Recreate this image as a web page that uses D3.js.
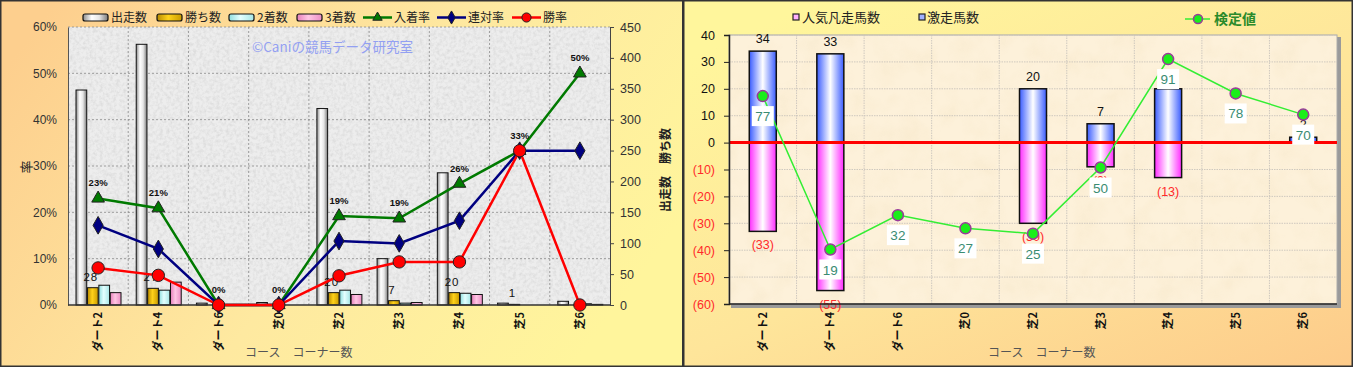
<!DOCTYPE html>
<html>
<head>
<meta charset="utf-8">
<script src="https://cdn.jsdelivr.net/npm/d3@7"></script>
<style>
  body { margin: 0; background: #fff; }
  svg { display: block; font-family: "Liberation Sans", Arial, "Noto Sans CJK JP", sans-serif; }
  .jp { font-family: "Noto Sans CJK JP", sans-serif; }
</style>
</head>
<body>
<div class="charts"></div>
<script>
// ---- data ----
var courses = ["ダート2", "ダート4", "ダート6", "芝0", "芝2", "芝3", "芝4", "芝5", "芝6"];

// left chart: counts
var runners = [348, 422, 3, 4, 318, 75, 214, 3, 6];
var wins    = [28, 27, 0, 0, 20, 7, 20, 1, 0];
var seconds = [32, 24, 0, 0, 24, 3, 19, 0, 2];
var thirds  = [20, 37, 0, 0, 17, 4, 17, 0, 1];
// left chart: rates (%)
var placeRate    = [23.0, 20.9, 0, 0, 19.2, 18.7, 26.2, 33.3, 50.0];
var quinellaRate = [17.2, 12.1, 0, 0, 13.8, 13.3, 18.2, 33.3, 33.3];
var winRate      = [8.0, 6.4, 0, 0, 6.3, 9.3, 9.3, 33.3, 0];

var pctTicks   = [0, 10, 20, 30, 40, 50, 60];
var countTicks = [0, 50, 100, 150, 200, 250, 300, 350, 400, 450];

// right chart
var hits     = [34, 33, 0, 0, 20, 7, 20, 0, 2];        // 激走馬数
var flops    = [-33, -55, 0, 0, -30, -9, -13, 0, 0];   // 人気凡走馬数
var testVals = [77, 19, 32, 27, 25, 50, 91, 78, 70];   // 検定値
var diffTicks = [-60, -50, -40, -30, -20, -10, 0, 10, 20, 30, 40];

var width = 1353, height = 367;

var svg = d3.select(".charts")
    .append("svg")
    .attr("width", width)
    .attr("height", height);

var defs = svg.append("defs");

function hGrad(id, stops) {
  var g = defs.append("linearGradient")
      .attr("id", id)
      .attr("x1", "0%").attr("y1", "0%")
      .attr("x2", "100%").attr("y2", "0%");
  stops.forEach(function(s) {
    g.append("stop").attr("offset", s[0]).attr("stop-color", s[1]);
  });
}

function grad(id, x1, y1, x2, y2, stops) {
  var g = defs.append("linearGradient")
      .attr("id", id)
      .attr("x1", x1).attr("y1", y1)
      .attr("x2", x2).attr("y2", y2);
  stops.forEach(function(s) {
    g.append("stop").attr("offset", s[0]).attr("stop-color", s[1]);
  });
}

grad("bgLeft", "0%", "20%", "100%", "60%", [["0%", "#fdcf8e"], ["55%", "#fee9a0"], ["100%", "#fff59c"]]);
grad("bgRight", "20%", "0%", "100%", "100%", [["0%", "#fff69c"], ["50%", "#fee59a"], ["100%", "#fdcb8a"]]);

hGrad("gRun",   [["0%", "#8c8c8c"], ["35%", "#ffffff"], ["65%", "#e6e6e6"], ["100%", "#7a7a7a"]]);
hGrad("gWin",   [["0%", "#b88a00"], ["45%", "#ffd21a"], ["100%", "#c99a00"]]);
hGrad("gSec",   [["0%", "#8fdede"], ["45%", "#e4ffff"], ["100%", "#a6e6e6"]]);
hGrad("gThird", [["0%", "#e67fba"], ["45%", "#ffc6e4"], ["100%", "#eb8ec4"]]);
hGrad("gHit",   [["0%", "#3a5cff"], ["50%", "#ffffff"], ["100%", "#3a5cff"]]);
hGrad("gFlop",  [["0%", "#ff2cff"], ["50%", "#ffffff"], ["100%", "#ff2cff"]]);

// textures
var granite = defs.append("filter").attr("id", "granite")
    .attr("x", 0).attr("y", 0).attr("width", 1).attr("height", 1);
granite.append("feTurbulence")
    .attr("type", "fractalNoise").attr("baseFrequency", 0.3)
    .attr("numOctaves", 3).attr("seed", 4);
granite.append("feColorMatrix").attr("type", "matrix")
    .attr("values", "0 0 0 0 0.5  0 0 0 0 0.5  0 0 0 0 0.5  1.3 0 0 0 -0.5");

var parch = defs.append("filter").attr("id", "parch")
    .attr("x", 0).attr("y", 0).attr("width", 1).attr("height", 1);
parch.append("feTurbulence")
    .attr("type", "fractalNoise").attr("baseFrequency", 0.04)
    .attr("numOctaves", 3).attr("seed", 9);
parch.append("feColorMatrix").attr("type", "matrix")
    .attr("values", "0 0 0 0 0.88  0 0 0 0 0.74  0 0 0 0 0.5  1.1 0 0 0 -0.45");

// ================= LEFT CHART =================
svg.append("rect")
    .attr("x", 0.75).attr("y", 0.75)
    .attr("width", 682).attr("height", 365.5)
    .style("fill", "url(#bgLeft)")
    .style("stroke", "#333")
    .style("stroke-width", 1.5);

var L = {left: 68, right: 610, top: 27, bottom: 305};

var x = d3.scaleBand().domain(courses).range([L.left, L.right]);
var yPct = d3.scaleLinear().domain([0, 60]).range([L.bottom, L.top]);
var yCnt = d3.scaleLinear().domain([0, 450]).range([L.bottom, L.top]);

var left = svg.append("g").attr("class", "left");

left.append("rect")
    .attr("x", L.left).attr("y", L.top)
    .attr("width", L.right - L.left).attr("height", L.bottom - L.top)
    .style("fill", "#ededed");
left.append("rect")
    .attr("x", L.left).attr("y", L.top)
    .attr("width", L.right - L.left).attr("height", L.bottom - L.top)
    .style("filter", "url(#granite)")
    .style("opacity", 0.55);

// grid
left.append("g").selectAll("line")
    .data(pctTicks.slice(1))
  .enter().append("line")
    .attr("x1", L.left).attr("x2", L.right)
    .attr("y1", function(d) { return yPct(d); })
    .attr("y2", function(d) { return yPct(d); })
    .style("stroke", "#8a8a8a").style("stroke-dasharray", "2,2").style("stroke-width", 0.8);

left.append("g").selectAll("line")
    .data(courses.slice(1))
  .enter().append("line")
    .attr("x1", function(d) { return x(d); })
    .attr("x2", function(d) { return x(d); })
    .attr("y1", L.top).attr("y2", L.bottom)
    .style("stroke", "#8a8a8a").style("stroke-dasharray", "2,2").style("stroke-width", 0.8);

// watermark
left.append("text")
    .attr("class", "jp")
    .attr("x", 252).attr("y", 52)
    .style("font-size", "13.5px")
    .style("fill", "#93a0f2")
    .text("©Caniの競馬データ研究室");

// bars
var barSeries = [
  {name: "出走数", values: runners, fill: "url(#gRun)"},
  {name: "勝ち数", values: wins, fill: "url(#gWin)"},
  {name: "2着数", values: seconds, fill: "url(#gSec)"},
  {name: "3着数", values: thirds, fill: "url(#gThird)"}
];

var xInner = d3.scaleBand()
    .domain(barSeries.map(function(s) { return s.name; }))
    .range([8, 53])
    .paddingInner(0.06);

barSeries.forEach(function(s) {
  left.append("g").selectAll("rect")
      .data(courses.filter(function(c, i) { return s.values[i] > 0; }))
    .enter().append("rect")
      .attr("x", function(c) { return x(c) + xInner(s.name); })
      .attr("width", xInner.bandwidth())
      .attr("y", function(c) { return yCnt(s.values[courses.indexOf(c)]); })
      .attr("height", function(c) { return L.bottom - yCnt(s.values[courses.indexOf(c)]); })
      .style("fill", s.fill)
      .style("stroke", "#111")
      .style("stroke-width", 1);
});

// win count labels
left.append("g").selectAll("text")
    .data(courses.filter(function(c, i) { return wins[i] > 0; }))
  .enter().append("text")
    .attr("x", function(c) { return x(c) + xInner("勝ち数") + xInner.bandwidth() / 2 - 2; })
    .attr("y", function(c) { return yCnt(wins[courses.indexOf(c)]) - 7; })
    .attr("text-anchor", "middle")
    .style("font-size", "11.5px")
    .style("letter-spacing", "1px")
    .style("fill", "#111")
    .text(function(c) { return wins[courses.indexOf(c)]; });

// axes
left.append("g")
    .attr("transform", "translate(" + L.left + ",0)")
    .call(d3.axisLeft(yPct).tickValues(pctTicks).tickSize(0).tickPadding(11)
      .tickFormat(function(d) { return d + "%"; }))
    .call(function(g) {
      g.select(".domain").style("stroke", "#555");
      g.selectAll("text").style("font-size", "12px").style("fill", "#333");
    });

left.append("g")
    .attr("transform", "translate(" + L.right + ",0)")
    .call(d3.axisRight(yCnt).tickValues(countTicks).tickSize(4).tickPadding(6))
    .call(function(g) {
      g.select(".domain").style("stroke", "#444");
      g.selectAll("line").style("stroke", "#444");
      g.selectAll("text").style("font-size", "12.5px").style("fill", "#333");
    });

left.append("line")
    .attr("x1", L.left).attr("x2", L.right)
    .attr("y1", L.bottom).attr("y2", L.bottom)
    .style("stroke", "#333").style("stroke-width", 1.5);

left.append("g").selectAll("text")
    .data(courses)
  .enter().append("text")
    .attr("class", "jp")
    .attr("transform", function(c) {
      return "translate(" + (x(c) + x.bandwidth() / 2 + 4) + "," + (L.bottom + 7) + ") rotate(-90)";
    })
    .attr("text-anchor", "end")
    .style("font-size", "11px")
    .style("font-weight", "bold")
    .style("fill", "#111")
    .text(function(c) { return c; });

left.append("text")
    .attr("class", "jp")
    .attr("x", 245).attr("y", 357)
    .style("font-size", "12px")
    .style("fill", "#555")
    .text("コース　コーナー数");

left.append("text")
    .attr("class", "jp")
    .attr("transform", "translate(31,167) rotate(-90)")
    .attr("text-anchor", "middle")
    .style("font-size", "13px")
    .style("fill", "#222")
    .text("率");

left.append("text")
    .attr("class", "jp")
    .attr("transform", "translate(670,170) rotate(-90)")
    .attr("text-anchor", "middle")
    .style("font-size", "12px")
    .style("font-weight", "bold")
    .style("fill", "#222")
    .text("出走数　勝ち数");

// rate lines
function cx(c) { return x(c) + x.bandwidth() / 2; }

var lineSeries = [
  {name: "入着率", values: placeRate, color: "#007a00", marker: d3.symbolTriangle, size: 70},
  {name: "連対率", values: quinellaRate, color: "#000080", marker: d3.symbolDiamond, size: 90},
  {name: "勝率", values: winRate, color: "#ff0000", marker: d3.symbolCircle, size: 120}
];

lineSeries.forEach(function(s) {
  var line = d3.line()
      .x(function(d, i) { return cx(courses[i]); })
      .y(function(d) { return yPct(d); });

  left.append("path")
      .datum(s.values)
      .attr("d", line)
      .style("fill", "none")
      .style("stroke", s.color)
      .style("stroke-width", 2.5);

  left.append("g").selectAll("path")
      .data(s.values)
    .enter().append("path")
      .attr("transform", function(d, i) { return "translate(" + cx(courses[i]) + "," + yPct(d) + ")"; })
      .attr("d", d3.symbol().type(s.marker).size(s.size))
      .style("fill", s.color)
      .style("stroke", "#222")
      .style("stroke-width", 1);
});

// place-rate labels
left.append("g").selectAll("text")
    .data(placeRate)
  .enter().append("text")
    .attr("x", function(d, i) { return cx(courses[i]); })
    .attr("y", function(d) { return yPct(d) - 12; })
    .attr("text-anchor", "middle")
    .style("font-size", "9.5px")
    .style("font-weight", "bold")
    .style("fill", "#111")
    .text(function(d) { return Math.round(d) + "%"; });

// legend
var legL = left.append("g").attr("class", "jp").style("font-size", "12px");
var legItems = [
  {name: "出走数", x: 83, fill: "url(#gRun)"},
  {name: "勝ち数", x: 157, fill: "url(#gWin)"},
  {name: "2着数", x: 229, fill: "url(#gSec)"},
  {name: "3着数", x: 297, fill: "url(#gThird)"}
];
legItems.forEach(function(d) {
  legL.append("rect")
      .attr("x", d.x).attr("y", 14)
      .attr("width", 25).attr("height", 7).attr("rx", 2)
      .style("fill", d.fill).style("stroke", "#111").style("stroke-width", 1.2);
  legL.append("text")
      .attr("x", d.x + 28).attr("y", 22)
      .style("fill", "#222")
      .text(d.name);
});
var legLines = [{x: 363}, {x: 437}, {x: 512}];
lineSeries.forEach(function(s, i) {
  var lx = legLines[i].x;
  legL.append("line")
      .attr("x1", lx).attr("x2", lx + 29)
      .attr("y1", 17.5).attr("y2", 17.5)
      .style("stroke", s.color).style("stroke-width", 2.5);
  legL.append("path")
      .attr("transform", "translate(" + (lx + 14.5) + ",17.5)")
      .attr("d", d3.symbol().type(s.marker).size(s.size * 0.55))
      .style("fill", s.color).style("stroke", "#222").style("stroke-width", 1);
  legL.append("text")
      .attr("x", lx + 31).attr("y", 22)
      .style("fill", "#222")
      .text(s.name);
});

// ================= RIGHT CHART =================
svg.append("rect")
    .attr("x", 683.75).attr("y", 0.75)
    .attr("width", 668.5).attr("height", 365.5)
    .style("fill", "url(#bgRight)")
    .style("stroke", "#333")
    .style("stroke-width", 1.5);

var R = {left: 729, right: 1337, top: 35, bottom: 304};

var x2 = d3.scaleBand().domain(courses).range([R.left, R.right]);
var yDiff = d3.scaleLinear().domain([-60, 40]).range([R.bottom, R.top]);
// hidden secondary axis for the test values
var yTest = d3.scaleLinear().domain([-1.6, 100.1]).range([R.bottom, R.top]);

var right = svg.append("g").attr("class", "right");

// plot shadow + background
right.append("rect")
    .attr("x", R.left + 2).attr("y", R.top + 2)
    .attr("width", R.right - R.left + 2).attr("height", R.bottom - R.top + 2)
    .style("fill", "#9a9a9a");
right.append("rect")
    .attr("x", R.left).attr("y", R.top)
    .attr("width", R.right - R.left).attr("height", R.bottom - R.top)
    .style("fill", "#fdf1da")
    .style("stroke", "#aaa");
right.append("rect")
    .attr("x", R.left).attr("y", R.top)
    .attr("width", R.right - R.left).attr("height", R.bottom - R.top)
    .style("filter", "url(#parch)")
    .style("opacity", 0.5);

right.append("g").selectAll("line")
    .data(diffTicks.slice(1))
  .enter().append("line")
    .attr("x1", R.left).attr("x2", R.right)
    .attr("y1", function(d) { return yDiff(d); })
    .attr("y2", function(d) { return yDiff(d); })
    .style("stroke", "#c9c4bc").style("stroke-dasharray", "1.5,1").style("stroke-width", 0.9);

right.append("g").selectAll("line")
    .data(courses.slice(1))
  .enter().append("line")
    .attr("x1", function(d) { return x2(d); })
    .attr("x2", function(d) { return x2(d); })
    .attr("y1", R.top).attr("y2", R.bottom)
    .style("stroke", "#c9c4bc").style("stroke-dasharray", "1.5,1").style("stroke-width", 0.9);

var bw = 27;
function bx(c) { return x2(c) + x2.bandwidth() / 2 - bw / 2; }

// bars
right.append("g").selectAll("rect")
    .data(courses.filter(function(c, i) { return hits[i] > 0; }))
  .enter().append("rect")
    .attr("x", bx)
    .attr("width", bw)
    .attr("y", function(c) { return yDiff(hits[courses.indexOf(c)]); })
    .attr("height", function(c) { return yDiff(0) - yDiff(hits[courses.indexOf(c)]); })
    .style("fill", "url(#gHit)")
    .style("stroke", "#111").style("stroke-width", 1.5);

right.append("g").selectAll("rect")
    .data(courses.filter(function(c, i) { return flops[i] < 0; }))
  .enter().append("rect")
    .attr("x", bx)
    .attr("width", bw)
    .attr("y", yDiff(0))
    .attr("height", function(c) { return yDiff(flops[courses.indexOf(c)]) - yDiff(0); })
    .style("fill", "url(#gFlop)")
    .style("stroke", "#111").style("stroke-width", 1.5);

// bar labels
right.append("g").selectAll("text")
    .data(courses.filter(function(c, i) { return hits[i] > 0; }))
  .enter().append("text")
    .attr("x", function(c) { return x2(c) + x2.bandwidth() / 2; })
    .attr("y", function(c) { return yDiff(hits[courses.indexOf(c)]) - 8; })
    .attr("text-anchor", "middle")
    .style("font-size", "12.5px")
    .style("fill", "#111")
    .text(function(c) { return hits[courses.indexOf(c)]; });

right.append("g").selectAll("text")
    .data(courses.filter(function(c, i) { return flops[i] < 0; }))
  .enter().append("text")
    .attr("x", function(c) { return x2(c) + x2.bandwidth() / 2; })
    .attr("y", function(c) { return yDiff(flops[courses.indexOf(c)]) + 18; })
    .attr("text-anchor", "middle")
    .style("font-size", "12.5px")
    .style("fill", "#ff2a2a")
    .text(function(c) { return "(" + Math.abs(flops[courses.indexOf(c)]) + ")"; });

// zero line
right.append("line")
    .attr("x1", R.left).attr("x2", R.right)
    .attr("y1", yDiff(0)).attr("y2", yDiff(0))
    .style("stroke", "#ff0000").style("stroke-width", 3);

// axes
right.append("g")
    .attr("transform", "translate(" + R.left + ",0)")
    .call(d3.axisLeft(yDiff).tickValues(diffTicks).tickSize(5).tickPadding(9)
      .tickFormat(function(d) { return d < 0 ? "(" + Math.abs(d) + ")" : d; }))
    .call(function(g) {
      g.select(".domain").style("stroke", "#222").style("stroke-width", 1.5);
      g.selectAll("line").style("stroke", "#222");
      g.selectAll("text")
        .style("font-size", "12.5px")
        .style("fill", function(d) { return d < 0 ? "#ff2a2a" : "#111"; });
    });

right.append("line")
    .attr("x1", R.left).attr("x2", R.right)
    .attr("y1", R.bottom).attr("y2", R.bottom)
    .style("stroke", "#222").style("stroke-width", 1.5);

right.append("g").selectAll("text")
    .data(courses)
  .enter().append("text")
    .attr("class", "jp")
    .attr("transform", function(c) {
      return "translate(" + (x2(c) + x2.bandwidth() / 2 + 4) + "," + (R.bottom + 8) + ") rotate(-90)";
    })
    .attr("text-anchor", "end")
    .style("font-size", "11px")
    .style("font-weight", "bold")
    .style("fill", "#111")
    .text(function(c) { return c; });

right.append("text")
    .attr("class", "jp")
    .attr("x", 988).attr("y", 357)
    .style("font-size", "12px")
    .style("fill", "#555")
    .text("コース　コーナー数");

// test value line
var testLine = d3.line()
    .x(function(d, i) { return x2(courses[i]) + x2.bandwidth() / 2; })
    .y(function(d) { return yTest(d); });

right.append("path")
    .datum(testVals)
    .attr("d", testLine)
    .style("fill", "none")
    .style("stroke", "#33ee33")
    .style("stroke-width", 1.5);

right.append("g").selectAll("circle")
    .data(testVals)
  .enter().append("circle")
    .attr("cx", function(d, i) { return x2(courses[i]) + x2.bandwidth() / 2; })
    .attr("cy", function(d) { return yTest(d); })
    .attr("r", 5.5)
    .style("fill", "#1aee1a")
    .style("stroke", "#9a3a9a")
    .style("stroke-width", 1.5);

var tl = right.append("g").selectAll("g")
    .data(testVals)
  .enter().append("g")
    .attr("transform", function(d, i) {
      return "translate(" + (x2(courses[i]) + x2.bandwidth() / 2) + "," + (yTest(d) + 20) + ")";
    });
tl.append("rect")
    .attr("x", -11).attr("y", -10)
    .attr("width", 22).attr("height", 20)
    .style("fill", "#fff");
tl.append("text")
    .attr("y", 5)
    .attr("text-anchor", "middle")
    .style("font-size", "13.5px")
    .style("fill", "#3a8c72")
    .text(function(d) { return d; });

// legend
var legR = right.append("g").attr("class", "jp").style("font-size", "13px");
legR.append("rect")
    .attr("x", 793).attr("y", 14).attr("width", 6).attr("height", 6)
    .style("fill", "#ffb0ff").style("stroke", "#222").style("stroke-width", 1.2);
legR.append("text").attr("x", 802).attr("y", 22).style("fill", "#222").text("人気凡走馬数");
legR.append("rect")
    .attr("x", 919).attr("y", 14).attr("width", 6).attr("height", 6)
    .style("fill", "#a0b0ff").style("stroke", "#222").style("stroke-width", 1.2);
legR.append("text").attr("x", 927).attr("y", 22).style("fill", "#222").text("激走馬数");

legR.append("line")
    .attr("x1", 1185).attr("x2", 1210).attr("y1", 19).attr("y2", 19)
    .style("stroke", "#33ee33").style("stroke-width", 1.5);
legR.append("circle")
    .attr("cx", 1198).attr("cy", 19).attr("r", 4.5)
    .style("fill", "#1aee1a").style("stroke", "#9a3a9a").style("stroke-width", 1.5);
legR.append("text")
    .attr("x", 1214).attr("y", 24)
    .style("font-size", "14px")
    .style("font-weight", "bold")
    .style("fill", "#2a8a2a")
    .text("検定値");
</script>
</body>
</html>
